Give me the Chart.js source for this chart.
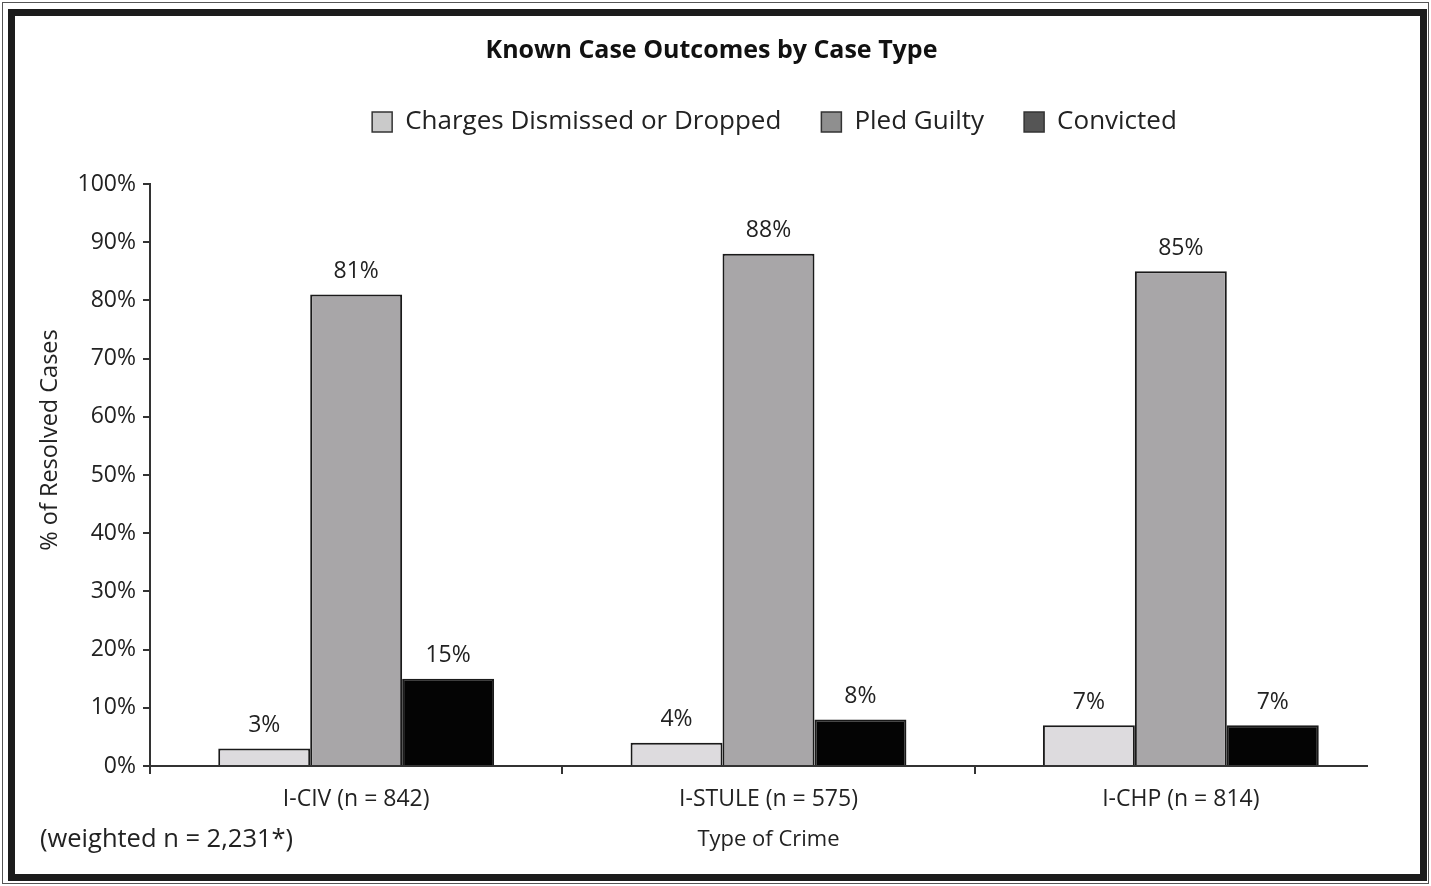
<!DOCTYPE html>
<html>
<head>
<meta charset="utf-8">
<script src="https://cdn.jsdelivr.net/npm/chart.js@4.4.1/dist/chart.umd.min.js"></script>
<style>
  body { margin: 0; background: #fff; }
  #wrap { position: relative; width: 1431px; height: 886px; }
  .frame-thin { position: absolute; left: 2px; top: 2px; width: 1427px; height: 882px; border: 1px solid #555; box-sizing: border-box; }
  .frame-thick { position: absolute; left: 8px; top: 9px; width: 1419px; height: 872px; border: 7px solid #1c1c1c; box-sizing: border-box; }
  canvas { position: absolute; left: 0; top: 0; }
</style>
</head>
<body>
<div id="wrap">
  <div class="frame-thin"></div>
  <div class="frame-thick"></div>
  <canvas id="outcomeChart" width="1431" height="886"></canvas>
</div>
<script>
// Data
const caseTypes = ['I-CIV (n = 842)', 'I-STULE (n = 575)', 'I-CHP (n = 814)'];
const dismissed = [3, 4, 7];
const pledGuilty = [81, 88, 85];
const convicted = [15, 8, 7];
const yTicks = [0, 10, 20, 30, 40, 50, 60, 70, 80, 90, 100];

const FONT = "'Open Sans', 'Noto Sans', sans-serif";
const legendFill = ['#cacaca', '#8f8f8f', '#555555'];

// value labels above each bar
const barLabels = {
    id: 'barLabels',
    afterDatasetsDraw(chart) {
        const ctx = chart.ctx;
        ctx.save();
        ctx.font = '23px ' + FONT;
        ctx.fillStyle = '#222';
        ctx.textAlign = 'center';
        ctx.textBaseline = 'middle';
        chart.data.datasets.forEach((ds, i) => {
            chart.getDatasetMeta(i).data.forEach((bar, j) => {
                ctx.fillText(ds.data[j] + '%', bar.x, bar.y - 23);
            });
        });
        ctx.restore();
    }
};

// extra text: footnote, y title (sits above the axis middle), short x axis line
const extras = {
    id: 'extras',
    afterDraw(chart) {
        const ctx = chart.ctx;
        const area = chart.chartArea;
        ctx.save();
        ctx.fillStyle = '#222';
        ctx.textBaseline = 'middle';

        ctx.font = '25.5px ' + FONT;
        ctx.textAlign = 'left';
        ctx.fillText('(weighted n = 2,231*)', 40, 840);

        ctx.translate(50, 440);
        ctx.rotate(-Math.PI / 2);
        ctx.font = '23.5px ' + FONT;
        ctx.textAlign = 'center';
        ctx.fillText('% of Resolved Cases', 0, 0);
        ctx.restore();

        // axis line stops a bit short of the last category edge
        ctx.save();
        ctx.strokeStyle = '#333';
        ctx.lineWidth = 2;
        ctx.beginPath();
        ctx.moveTo(area.left, area.bottom);
        ctx.lineTo(area.right - 19, area.bottom);
        ctx.stroke();
        ctx.restore();
    }
};

// nudge title and legend to where the original puts them
const nudgeHeader = {
    id: 'nudgeHeader',
    afterLayout(chart) {
        const t = chart.titleBlock;
        if (t) { t.left += 3; t.right += 3; }
        const lg = chart.legend;
        if (lg) { lg.left += 66; lg.right += 66; lg.top -= 39; lg.bottom -= 39; }
    }
};

const ctxOutcome = document.getElementById('outcomeChart').getContext('2d');
new Chart(ctxOutcome, {
    type: 'bar',
    data: {
        labels: caseTypes,
        datasets: [
            { label: 'Charges Dismissed or Dropped', data: dismissed, backgroundColor: '#dddbde', borderColor: '#1a1a1a', borderWidth: 2 },
            { label: 'Pled Guilty', data: pledGuilty, backgroundColor: '#a8a6a8', borderColor: '#1a1a1a', borderWidth: 2 },
            { label: 'Convicted', data: convicted, backgroundColor: '#040404', borderColor: '#1a1a1a', borderWidth: 2 }
        ]
    },
    options: {
        responsive: false,
        animation: false,
        layout: { padding: { left: 30, right: 44, top: 22, bottom: 20 } },
        datasets: { bar: { barPercentage: 1.0, categoryPercentage: 0.669 } },
        plugins: {
            title: {
                display: true,
                text: 'Known Case Outcomes by Case Type',
                color: '#111',
                font: { family: FONT, size: 25, weight: 'bold' },
                padding: { top: 14, bottom: 42 }
            },
            legend: {
                position: 'top',
                labels: {
                    color: '#222',
                    font: { family: FONT, size: 26 },
                    boxWidth: 20,
                    boxHeight: 20,
                    padding: 40,
                    generateLabels(chart) {
                        return chart.data.datasets.map((ds, i) => ({
                            text: ds.label,
                            fillStyle: legendFill[i],
                            strokeStyle: '#333',
                            lineWidth: 1.5,
                            fontColor: '#222',
                            datasetIndex: i
                        }));
                    }
                }
            },
            tooltip: { enabled: false }
        },
        scales: {
            x: {
                afterFit(scale) { scale.height = 100; },
                grid: {
                    drawOnChartArea: false,
                    tickLength: 8,
                    lineWidth: 2,
                    color: c => c.type === 'tick' ? '#333' : 'rgba(0,0,0,0)'
                },
                border: { display: false },
                ticks: { color: '#222', font: { family: FONT, size: 23 }, padding: 12 },
                title: { display: true, text: 'Type of Crime', color: '#222', font: { family: FONT, size: 22 }, padding: { top: 4, bottom: 13 } }
            },
            y: {
                min: 0,
                max: 100,
                afterFit(scale) { scale.width = 120; },
                afterBuildTicks(scale) { scale.ticks = yTicks.map(v => ({ value: v })); },
                grid: { drawOnChartArea: false, tickLength: 7, color: '#333', lineWidth: 2 },
                border: { color: '#333', width: 2 },
                ticks: { color: '#222', font: { family: FONT, size: 23 }, padding: 7, callback: v => v + '%' },
                title: { display: false }
            }
        }
    },
    plugins: [barLabels, extras, nudgeHeader]
});
</script>
</body>
</html>
